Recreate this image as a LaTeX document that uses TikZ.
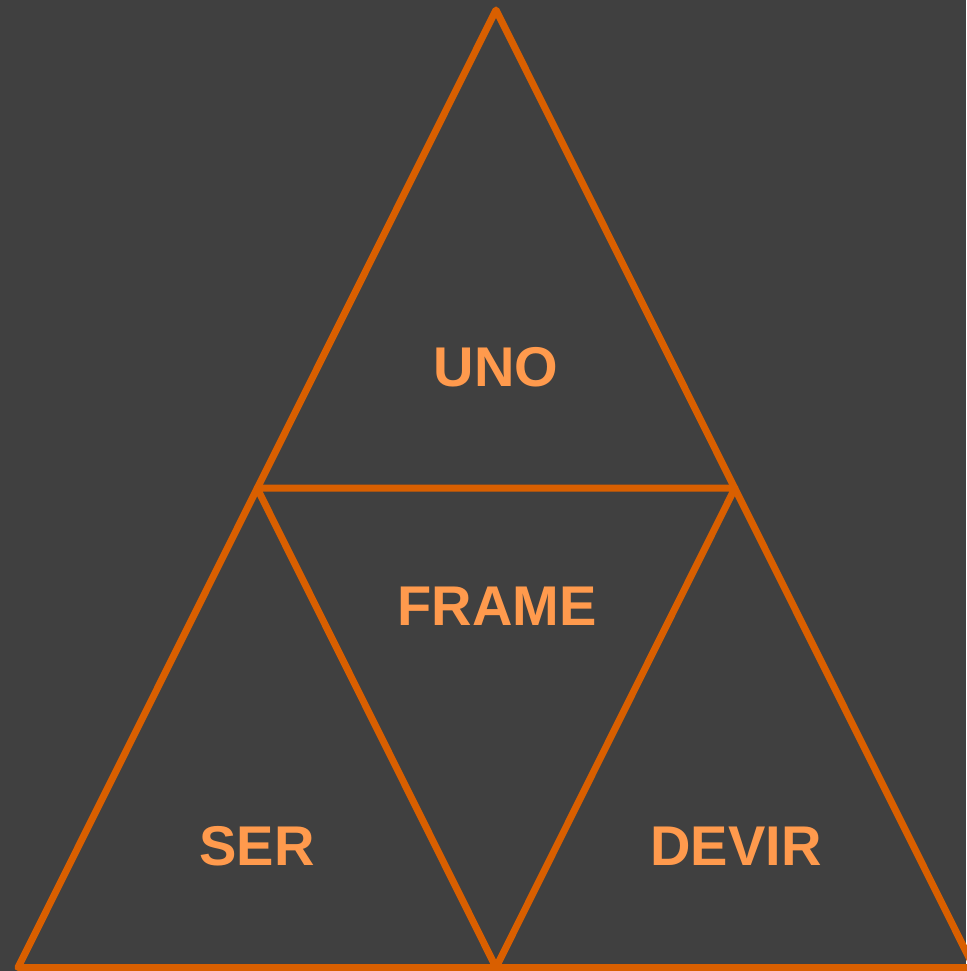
\documentclass[tikz,border=0pt]{standalone}
\usepackage{fontspec}
\setmainfont{Liberation Sans}
\definecolor{bg}{HTML}{404040}
\definecolor{edge}{HTML}{D95F00}
\definecolor{txt}{HTML}{FF9A4D}
\tikzset{
  edgeline/.style={draw=edge, line width=7pt, line join=round, line cap=round},
  lbl/.style={text=txt, font=\fontsize{56}{60}\selectfont\bfseries, inner sep=0pt}
}
\begin{document}
\begin{tikzpicture}[x=1pt,y=-1pt]
\fill[bg] (0,0) rectangle (966,971);
\useasboundingbox (0,0) rectangle (966,971);
\coordinate (A) at (496,10);
\coordinate (L) at (18,967.5);
\coordinate (R) at (974,967.5);
\coordinate (ML) at (257,488);
\coordinate (MR) at (735,488);
\coordinate (MB) at (496,967.5);
\draw[edgeline] (A) -- (L) -- (R) -- cycle;
\draw[edgeline] (ML) -- (MR) -- (MB) -- cycle;
\node[lbl] (uno) at (496,367) {UNO};
\node[lbl] (frame) at (497,606) {FRAME};
\node[lbl] (ser) at (257,846) {SER};
\node[lbl] (devir) at (736,846) {DEVIR};
\end{tikzpicture}
\end{document}
